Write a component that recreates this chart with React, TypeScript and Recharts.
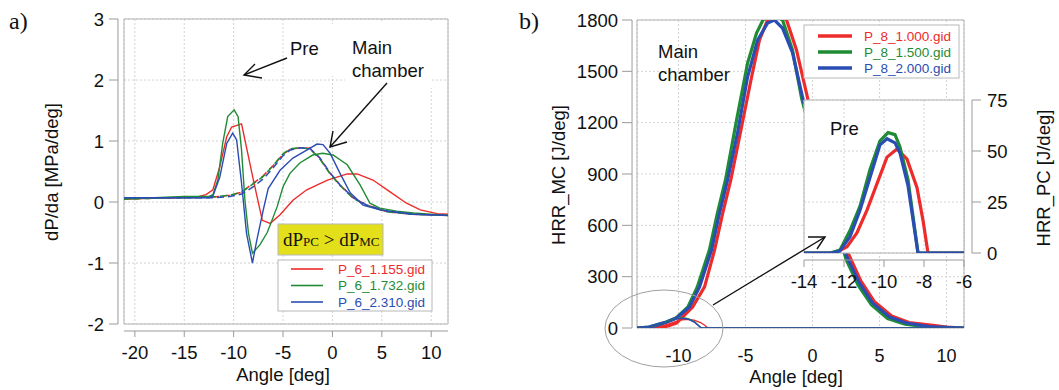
import React from 'react';
import { LineChart, Line, XAxis, YAxis, CartesianGrid, ReferenceLine, ReferenceArea } from 'recharts';

// ---- panel a: dP/da, solid = pre chamber, dashed = main chamber ----
const aRedX = [-21.1, -15, -13.5, -12.8, -12.1, -11.4, -10.7, -10.2, -9.2, -8.0, -7.1, -6.3, -5.3, -4.0, -2.6, -0.5, 1.5, 2.5, 4.1, 5.8, 7.5, 8.9, 10.6, 11.7];
const aRedY = [0.05, 0.08, 0.09, 0.12, 0.2, 0.58, 1.07, 1.23, 1.28, 0.36, -0.3, -0.35, -0.21, 0.03, 0.2, 0.36, 0.46, 0.46, 0.36, 0.17, -0.02, -0.13, -0.19, -0.2];
const aGreenX = [-21.1, -15, -12.5, -12.1, -11.6, -11.1, -10.6, -9.95, -9.55, -9.2, -8.86, -8.5, -8.1, -7.33, -6.6, -5.6, -5.0, -4.3, -3.3, -2.0, -1.0, 0.06, 1.5, 2.8, 3.8, 4.8, 6.5, 8.2, 11.7];
const aGreenY = [0.05, 0.09, 0.09, 0.12, 0.36, 0.97, 1.4, 1.51, 1.4, 0.85, 0.03, -0.51, -0.84, -0.7, -0.5, -0.08, 0.25, 0.47, 0.64, 0.77, 0.8, 0.77, 0.61, 0.28, -0.02, -0.1, -0.15, -0.18, -0.22];
const aBlueX = [-21.1, -12.5, -12.1, -11.4, -10.7, -10.1, -9.7, -9.2, -8.7, -8.1, -7.65, -7.0, -6.5, -5.3, -4.0, -2.6, -1.56, -0.95, -0.24, 0.77, 1.8, 3.1, 4.8, 8.2, 11.7];
const aBlueY = [0.07, 0.07, 0.1, 0.41, 0.96, 1.13, 1.02, 0.31, -0.51, -1.0, -0.62, -0.13, 0.22, 0.52, 0.72, 0.85, 0.95, 0.94, 0.8, 0.47, 0.15, -0.05, -0.13, -0.2, -0.22];
const aMcX = [-21.1, -15, -12.1, -10.4, -9.2, -8.0, -7.0, -6.0, -5.0, -4.3, -3.3, -2.3, -1.3, -0.24, 0.77, 2.1, 3.5, 5.5, 8, 11.7];
const aRedMcY = [0.05, 0.07, 0.08, 0.11, 0.16, 0.31, 0.43, 0.6, 0.78, 0.86, 0.89, 0.88, 0.72, 0.47, 0.28, 0.07, -0.05, -0.16, -0.2, -0.22];
const aGreenMcY = [0.05, 0.07, 0.08, 0.11, 0.16, 0.3, 0.42, 0.6, 0.79, 0.87, 0.89, 0.87, 0.71, 0.46, 0.27, 0.06, -0.06, -0.16, -0.2, -0.22];
const aBlueMcY = [0.07, 0.07, 0.07, 0.09, 0.13, 0.25, 0.38, 0.56, 0.76, 0.85, 0.89, 0.88, 0.73, 0.48, 0.28, 0.07, -0.05, -0.15, -0.2, -0.22];
const aTicksX = [-20, -15, -10, -5, 0, 5, 10];
const aTicksY = [-2, -1, 0, 1, 2, 3];

// ---- panel b: HRR main chamber ----
const bBlueX = [-13.1, -12.2, -10.9, -10.15, -9.18, -8.43, -7.54, -6.94, -6.34, -5.6, -4.85, -4.1, -3.36, -2.84, -2.24, -1.49, -0.75, 0, 1, 2, 2.54, 3.5, 4.48, 5.75, 7.0, 8.96, 11.3];
const bBlueY = [0, 6, 35, 58, 123, 240, 456, 672, 865, 1140, 1467, 1683, 1782, 1800, 1753, 1607, 1350, 1130, 850, 570, 420, 263, 146, 64, 29, 6, 0];
const bGreenX = [-13.1, -12.2, -10.9, -10.2, -9.3, -8.6, -7.7, -7.1, -6.5, -5.67, -4.85, -4.18, -3.7, -3.0, -2.24, -1.5, -0.82, 0, 1, 2, 2.5, 3.4, 4.4, 5.6, 6.9, 8.8, 11.3];
const bGreenY = [0, 6, 35, 58, 123, 240, 456, 672, 865, 1215, 1548, 1724, 1800, 1835, 1800, 1625, 1344, 1100, 820, 540, 400, 250, 135, 55, 22, 4, 0];
const bRedX = [-13.1, -11.4, -10.8, -10.15, -8.95, -8.06, -7.31, -6.7, -6.1, -5.3, -4.55, -3.96, -3.36, -2.7, -1.94, -1.2, -0.37, 0.3, 1.2, 2.1, 2.7, 3.6, 4.6, 5.9, 7.2, 9.0, 10, 11.3];
const bRedY = [0, 0, 12, 29, 123, 240, 456, 672, 865, 1175, 1467, 1683, 1800, 1840, 1800, 1625, 1344, 1160, 880, 600, 430, 275, 155, 70, 32, 15, 6, 0];

// ---- panel b: HRR pre chamber (inset + thin lines in main) ----
const pcGreenX = [-14, -12.7, -12.2, -11.7, -11.2, -10.7, -10.2, -9.8, -9.45, -9.2, -8.8, -8.55, -8.3, 11.3];
const pcGreenY = [0, 0, 1.5, 11, 23, 41, 55, 59, 58, 52, 36, 18, 0, 0];
const pcBlueX = [-14, -12.6, -12.2, -11.7, -11.2, -10.7, -10.2, -9.85, -9.45, -9.2, -8.8, -8.3, 11.3];
const pcBlueY = [0, 0, 1, 8, 21, 37, 53, 56, 54, 49, 33, 0, 0];
const pcRedX = [-14, -12.45, -11.85, -11.35, -10.85, -10.35, -9.85, -9.35, -8.85, -8.35, -8.05, -7.8, 11.3];
const pcRedY = [0, 0, 3, 10, 21, 34, 47, 51, 46, 32, 16, 0, 0];

const bTicksX = [-10, -5, 0, 5, 10];
const bTicksY = [0, 300, 600, 900, 1200, 1500, 1800];
const inTicksX = [-14, -12, -10, -8, -6];
const inTicksY = [0, 25, 50, 75];

const legendA = ['P_6_1.155.gid', 'P_6_1.732.gid', 'P_6_2.310.gid'];
const legendB = ['P_8_1.000.gid', 'P_8_1.500.gid', 'P_8_2.000.gid'];

const RED = '#ee2b2b';
const GREEN = '#1f8c35';
const BLUE = '#2a4db3';
const COLORS = [RED, GREEN, BLUE];
const AXIS = '#9a9a9a';
const FRAME = '#b4b4b4';
const GRID = '#d2d2d2';
const SANS = '"Liberation Sans", Arial, sans-serif';
const SERIF = '"Liberation Serif", "Times New Roman", serif';
const FS = 18.5;

const pts = (xs: number[], ys: number[]) => xs.map((x, i) => ({ x, y: ys[i] }));

const txt = (x: number, y: number, v: any, anchor: string, size = FS) => (
  <text x={x} y={y} textAnchor={anchor as any} fontSize={size} fill="#111" fontFamily={SANS}>{v}</text>
);

// tick renderers: positions are in each chart's own svg coordinates
const yTickA = (p: any) => (
  <g>
    <line x1={109} x2={118} y1={p.y} y2={p.y} stroke={AXIS} />
    {txt(104, p.y + 6.5, p.payload.value, 'end')}
  </g>
);
const xTickA = (p: any) => (
  <g>
    <line x1={p.x} x2={p.x} y1={331} y2={337} stroke={AXIS} />
    {txt(p.x, 359, p.payload.value, 'middle')}
  </g>
);
const yTickB = (p: any) => (
  <g>
    <line x1={102} x2={112} y1={p.y} y2={p.y} stroke={AXIS} />
    {txt(98, p.y + 6.5, p.payload.value, 'end')}
  </g>
);
const xTickB = (p: any) => <g>{txt(p.x, 361.5, p.payload.value, 'middle', 18)}</g>;
const yTickIn = (p: any) => (
  <g>
    <line x1={192} x2={201} y1={p.y} y2={p.y} stroke={AXIS} />
    {txt(207, p.y + 6.5, p.payload.value, 'start')}
  </g>
);
const xTickIn = (p: any) => (
  <g>
    <line x1={p.x} x2={p.x} y1={180} y2={187} stroke={AXIS} />
    {txt(p.x, 208, p.payload.value, 'middle')}
  </g>
);

const abs = (left: number, top: number): React.CSSProperties => ({ position: 'absolute', left, top });

const ln = (d: { x: number; y: number }[], color: string, w: number, extra: any = {}) => (
  <Line data={d} dataKey="y" stroke={color} strokeWidth={w} dot={false} activeDot={false} isAnimationActive={false} {...extra} />
);

export default function App() {
  return (
    <div style={{ position: 'absolute', left: 0, top: 0, width: 1059, height: 390, background: '#fff', overflow: 'hidden' }}>
      {/* panel a */}
      <div style={abs(0, 0)}>
        <LineChart width={460} height={390} margin={{ top: 19, left: 64, right: 12, bottom: 36 }}>
          <CartesianGrid stroke={GRID} strokeDasharray="2 2" />
          <XAxis type="number" dataKey="x" domain={[-21.1, 11.7]} ticks={aTicksX} allowDataOverflow height={30} axisLine={false} tickLine={false} tick={xTickA} interval={0} />
          <YAxis type="number" dataKey="y" domain={[-2, 3]} ticks={aTicksY} allowDataOverflow width={60} axisLine={false} tickLine={false} tick={yTickA} interval={0} />
          <ReferenceArea x1={-21.1} x2={11.7} y1={-2} y2={3} fill="none" stroke={FRAME} ifOverflow="visible" />
          <ReferenceLine segment={[{ x: -21.71, y: -2 }, { x: -21.71, y: 3 }]} stroke={AXIS} ifOverflow="visible" />
          <ReferenceLine segment={[{ x: -21.1, y: -2.115 }, { x: 11.7, y: -2.115 }]} stroke={AXIS} ifOverflow="visible" />
          {ln(pts(aMcX, aRedMcY), RED, 1.5, { strokeDasharray: '7 4' })}
          {ln(pts(aRedX, aRedY), RED, 1.4)}
          {ln(pts(aGreenX, aGreenY), GREEN, 1.4)}
          {ln(pts(aMcX, aGreenMcY), GREEN, 1.5, { strokeDasharray: '7 4', strokeDashoffset: 3 })}
          {ln(pts(aBlueX, aBlueY), BLUE, 1.4)}
          {ln(pts(aMcX, aBlueMcY), BLUE, 1.5, { strokeDasharray: '7 4', strokeDashoffset: 6 })}
        </LineChart>
      </div>

      {/* panel b main */}
      <div style={abs(520, 0)}>
        <LineChart width={539} height={390} margin={{ top: 20, left: 57, right: 95, bottom: 32 }}>
          <CartesianGrid stroke={GRID} strokeDasharray="2 2" />
          <XAxis type="number" dataKey="x" domain={[-13.1, 11.3]} ticks={bTicksX} allowDataOverflow height={30} axisLine={false} tickLine={false} tick={xTickB} interval={0} />
          <YAxis type="number" dataKey="y" domain={[0, 1800]} ticks={bTicksY} allowDataOverflow width={60} axisLine={false} tickLine={false} tick={yTickB} interval={0} />
          <ReferenceArea x1={-13.1} x2={11.3} y1={0} y2={1800} fill="none" stroke={FRAME} ifOverflow="visible" />
          <ReferenceLine segment={[{ x: -13.47, y: 0 }, { x: -13.47, y: 1800 }]} stroke={AXIS} ifOverflow="visible" />
          {ln(pts(bRedX, bRedY), RED, 3.2)}
          {ln(pts(bGreenX, bGreenY), GREEN, 3.2)}
          {ln(pts(bBlueX, bBlueY), BLUE, 3.2)}
          {ln(pts(pcRedX, pcRedY), RED, 1.4)}
          {ln(pts(pcGreenX, pcGreenY), GREEN, 1.4)}
          {ln(pts(pcBlueX, pcBlueY), BLUE, 1.4)}
        </LineChart>
      </div>

      {/* inset background */}
      <div style={{ ...abs(804, 100), width: 160, height: 153, background: '#fff' }} />

      {/* panel b inset */}
      <div style={abs(780, 80)}>
        <LineChart width={279} height={220} margin={{ top: 20, left: 24, right: 35, bottom: 17 }}>
          <CartesianGrid stroke={GRID} strokeDasharray="2 2" />
          <XAxis type="number" dataKey="x" domain={[-14, -6]} ticks={inTicksX} allowDataOverflow height={30} axisLine={false} tickLine={false} tick={xTickIn} interval={0} />
          <YAxis type="number" dataKey="y" orientation="right" domain={[0, 75]} ticks={inTicksY} allowDataOverflow width={60} axisLine={false} tickLine={false} tick={yTickIn} interval={0} />
          <ReferenceArea x1={-14} x2={-6} y1={0} y2={75} fill="none" stroke={FRAME} ifOverflow="visible" />
          <ReferenceLine segment={[{ x: -5.6, y: 0 }, { x: -5.6, y: 75 }]} stroke={AXIS} ifOverflow="visible" />
          <ReferenceLine segment={[{ x: -14, y: -3.43 }, { x: -6, y: -3.43 }]} stroke={AXIS} ifOverflow="visible" />
          {ln(pts(pcRedX, pcRedY), RED, 3.2)}
          {ln(pts(pcGreenX, pcGreenY), GREEN, 3.2)}
          {ln(pts(pcBlueX, pcBlueY), BLUE, 3.2)}
        </LineChart>
      </div>

      {/* annotations, titles, legends */}
      <svg width={1059} height={390} style={{ ...abs(0, 0), pointerEvents: 'none' }}>
        <text x={9} y={29} fontSize={24} fontFamily={SERIF} fill="#111">a)</text>
        <text x={519} y={29} fontSize={24} fontFamily={SERIF} fill="#111">b)</text>

        <text x={283} y={381} textAnchor="middle" fontSize={FS} fontFamily={SANS} fill="#111">Angle [deg]</text>
        <text x={796} y={383} textAnchor="middle" fontSize={FS} fontFamily={SANS} fill="#111">Angle [deg]</text>
        <text transform="translate(58,172) rotate(-90)" textAnchor="middle" fontSize={FS} fontFamily={SANS} fill="#111">dP/da [MPa/deg]</text>
        <text transform="translate(565,175) rotate(-90)" textAnchor="middle" fontSize={FS} fontFamily={SANS} fill="#111">HRR_MC [J/deg]</text>
        <text transform="translate(1050,178) rotate(-90)" textAnchor="middle" fontSize={FS} fontFamily={SANS} fill="#111">HRR_PC [J/deg]</text>

        {/* panel a notes */}
        <rect x={286} y={24} width={48} height={52} fill="#fff" />
        <rect x={345} y={22} width={87} height={66} fill="#fff" />
        <text x={290} y={55} fontSize={FS} fontFamily={SANS} fill="#111">Pre</text>
        <text x={352} y={53.5} fontSize={FS} fontFamily={SANS} fill="#111">Main</text>
        <text x={352} y={76.5} fontSize={FS} fontFamily={SANS} fill="#111">chamber</text>
        <g stroke="#111" strokeWidth={1.4} fill="none">
          <line x1={287} y1={58} x2={244} y2={75} />
          <polyline points="255,64 244,75 262,78" />
          <line x1={387} y1={83} x2={330} y2={147} />
          <polyline points="333,131 330,147 347,142" />
        </g>
        <rect x={278} y={224} width={105} height={31} fill="#e4df1b" stroke="#b8b8b8" />
        <text x={283} y={246} fontFamily={SERIF} fill="#111" fontSize={19}>
          dP<tspan fontSize={13}>PC</tspan> &gt; dP<tspan fontSize={13}>MC</tspan>
        </text>
        <rect x={278} y={260} width={154} height={51} fill="#fff" stroke="#b8b8b8" />
        {legendA.map((s, i) => (
          <g key={s}>
            <line x1={291} x2={323} y1={269 + i * 16.5} y2={269 + i * 16.5} stroke={COLORS[i]} strokeWidth={1.6} />
            <text x={338} y={273.5 + i * 16.5} fontSize={13.5} fontFamily={SANS} fill={COLORS[i]}>{s}</text>
          </g>
        ))}

        {/* panel b notes */}
        <text x={658} y={58} fontSize={FS} fontFamily={SANS} fill="#111">Main</text>
        <text x={658} y={81} fontSize={FS} fontFamily={SANS} fill="#111">chamber</text>
        <text x={830} y={135} fontSize={FS} fontFamily={SANS} fill="#111">Pre</text>
        <ellipse cx={664} cy={328.5} rx={59} ry={38.5} fill="none" stroke="#a0a0a0" strokeWidth={1} />
        <g stroke="#111" strokeWidth={1.4} fill="none">
          <line x1={713} y1={305} x2={825} y2={237} />
          <polyline points="808,237 825,237 817,249" />
        </g>
        <rect x={804} y={25} width={155} height={53} fill="#fff" stroke="#b8b8b8" />
        {legendB.map((s, i) => (
          <g key={s}>
            <line x1={818} x2={852} y1={36 + i * 16} y2={36 + i * 16} stroke={COLORS[i]} strokeWidth={3.5} />
            <text x={864} y={40.5 + i * 16} fontSize={13.5} fontFamily={SANS} fill={COLORS[i]}>{s}</text>
          </g>
        ))}
      </svg>
    </div>
  );
}
